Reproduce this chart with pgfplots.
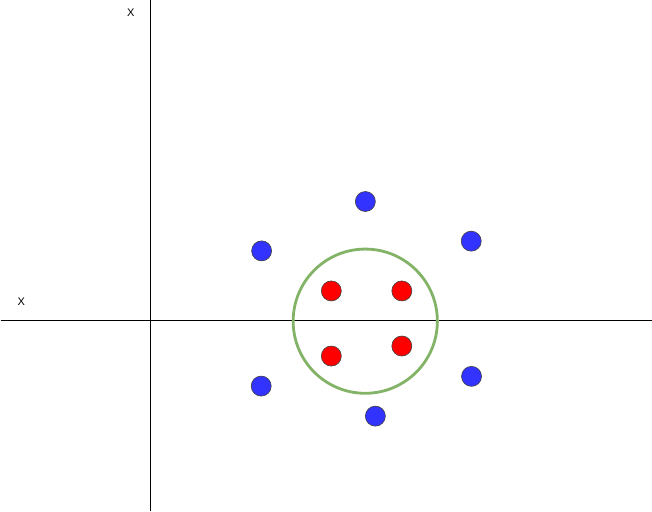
\documentclass[border=0pt]{standalone}
\usepackage{pgfplots}
\pgfplotsset{compat=1.18}
\usepackage{fontspec}
\setmainfont{Liberation Sans}
\definecolor{ptblue}{RGB}{51,51,255}
\definecolor{ptred}{RGB}{255,0,0}
\definecolor{ringgreen}{RGB}{130,179,102}
\begin{document}
\begin{tikzpicture}
\begin{axis}[
  x=1pt, y=1pt,
  xmin=-150, xmax=502, ymin=-192, ymax=320,
  hide axis, clip=false, scale only axis,
]
% axes
\addplot[black, line width=1pt] coordinates {(-150,0) (500,0)};
\addplot[black, line width=1pt] coordinates {(0,320) (0,-190)};
% ring
\addplot[only marks, mark=o, mark size=72pt, mark options={draw=ringgreen, line width=2.8pt}] coordinates {(214.2,-0.2)};
% blue points
\addplot[only marks, mark=*, mark size=10pt, mark options={fill=ptblue, draw=black!75, line width=0.6pt}] coordinates {
(214.3,119.3) (110.7,70) (320,79.7) (110.3,-65) (320.3,-55.3) (224.3,-95)
};
% red points
\addplot[only marks, mark=*, mark size=10pt, mark options={fill=ptred, draw=black!75, line width=0.6pt}] coordinates {
(180.3,30) (250.7,30) (180.3,-35) (250.7,-25)
};
\node[font=\fontsize{11}{13}\selectfont] at (axis cs:-20,308) {X};
\node[font=\fontsize{11}{13}\selectfont] at (axis cs:-129.3,19) {X};
\end{axis}
\end{tikzpicture}
\end{document}
